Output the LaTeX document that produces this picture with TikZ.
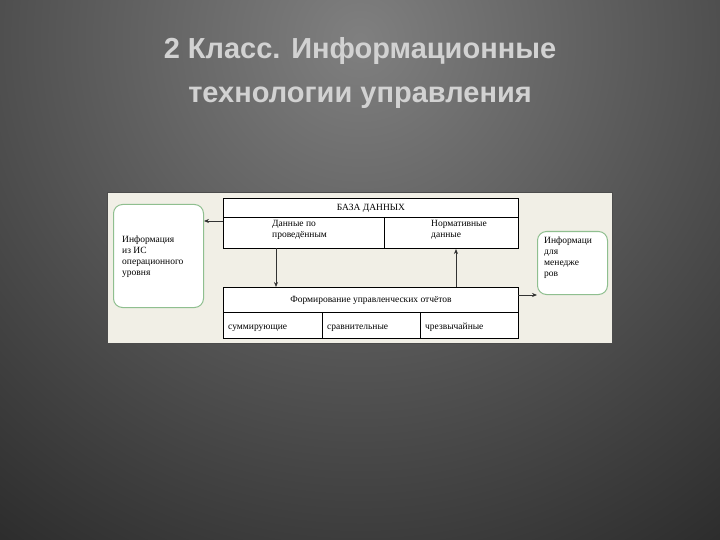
\documentclass[tikz,border=0pt]{standalone}
\usepackage{fontspec}
\setmainfont{Liberation Serif}
\newfontfamily\titlefont{Liberation Sans}
\usetikzlibrary{arrows.meta}
\definecolor{panel}{HTML}{F1EFE6}
\definecolor{gbord}{HTML}{8FBF8F}
\definecolor{ttl}{HTML}{D2D2D2}
\begin{document}
\begin{tikzpicture}[x=1pt,y=-1pt,
  cell/.style={draw=black,line width=0.9pt,fill=white},
  rbox/.style={draw=gbord,line width=1pt,fill=white,rounded corners=9pt},
  lbl/.style={font=\fontsize{9.5}{11}\selectfont,align=left,inner sep=0pt},
  arr/.style={-{Stealth[length=5pt,width=4pt]},line width=0.7pt,draw=black!80}]
\useasboundingbox (0,0) rectangle (720,540);
\begin{scope}
\clip (0,0) rectangle (720,540);
\shade[inner color=black!50, outer color=black!88] (360,40) circle (720);
\end{scope}
\node[font=\titlefont\bfseries\fontsize{29}{44}\selectfont,text=ttl,align=center] (title) at (360,73) {2 Класс. Информационные\\технологии управления};
\node[draw=black!70,fill=panel,minimum width=505,minimum height=151,anchor=north west,inner sep=0] (panel) at (107,192) {};
% top box
\node[cell,minimum width=295,minimum height=19,anchor=north west,inner sep=0] (db) at (223,198) {};
\node[font=\fontsize{9.5}{11}\selectfont] (dbt) at (db.center) {БАЗА ДАННЫХ};
\node[cell,minimum width=161,minimum height=31,anchor=north west,inner sep=0] (d1) at (223,217) {};
\node[cell,minimum width=134,minimum height=31,anchor=north west,inner sep=0] (d2) at (384,217) {};
\node[lbl,anchor=north west] (d1t) at (272,220) {Данные по\\проведённым};
\node[lbl,anchor=north west] (d2t) at (431,220) {Нормативные\\данные};
% bottom box
\node[cell,minimum width=295,minimum height=25,anchor=north west,inner sep=0] (f) at (223,287) {};
\node[font=\fontsize{9.5}{11}\selectfont] (ft) at (f.center) {Формирование управленческих отчётов};
\node[cell,minimum width=99,minimum height=26,anchor=north west,inner sep=0] (c1) at (223,312) {};
\node[cell,minimum width=98,minimum height=26,anchor=north west,inner sep=0] (c2) at (322,312) {};
\node[cell,minimum width=98,minimum height=26,anchor=north west,inner sep=0] (c3) at (420,312) {};
\node[lbl,anchor=base west] (c1t) at (228,329) {суммирующие};
\node[lbl,anchor=base west] (c2t) at (327,329) {сравнительные};
\node[lbl,anchor=base west] (c3t) at (425,329) {чрезвычайные};
% side boxes
\node[rbox,minimum width=90,minimum height=103,anchor=north west,inner sep=0] (L) at (113,204) {};
\node[lbl,anchor=north west] (Lt) at (122,236) {Информация\\из ИС\\операционного\\уровня};
\node[rbox,minimum width=70,minimum height=63,anchor=north west,inner sep=0] (R) at (537,231) {};
\node[lbl,anchor=north west] (Rt) at (544,237) {Информаци\\ для\\менедже\\ров};
% arrows
\coordinate (a1) at (223,221);
\draw[arr] (a1) -- (L.east|-a1);
\draw[arr] (276,248) -- (276,287);
\draw[arr] (456,287) -- (456,249);
\coordinate (a4) at (518,295);
\draw[arr] (a4) -- (R.west|-a4);
\end{tikzpicture}
\end{document}
